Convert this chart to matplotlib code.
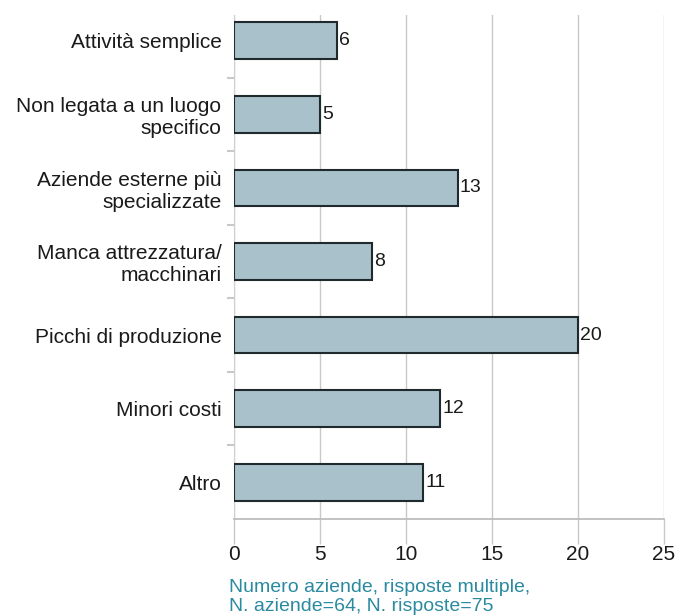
import matplotlib
matplotlib.use("Agg")
import matplotlib.pyplot as plt
import numpy as np

categories = ["Attività semplice", "Non legata a un luogo\nspecifico",
              "Aziende esterne più\nspecializzate", "Manca attrezzatura/\nmacchinari",
              "Picchi di produzione", "Minori costi", "Altro"]
values = [6, 5, 13, 8, 20, 12, 11]
xticks = [0, 5, 10, 15, 20, 25]
footnote = "Numero aziende, risposte multiple,\nN. aziende=64, N. risposte=75"

sans = "Liberation Sans"

fig = plt.figure(figsize=(6.83, 6.16), dpi=100)
ax = fig.add_axes([234/683, 1-519/616, (664-234)/683, (519-15)/616])

y = np.arange(len(categories))
ax.barh(y, values, height=0.5, color="#a9c1cb", edgecolor="#1e2a2c", linewidth=1.5, zorder=3)
for yi, v in zip(y, values):
    ax.text(v + 0.12, yi, str(v), va="center", ha="left", fontsize=14,
            family=sans, color="#1a1a1a")

ax.set_xlim(0, 25)
ax.set_ylim(6.5, -0.35)
ax.set_xticks(xticks)
ax.set_xticklabels([str(t) for t in xticks], family=sans, fontsize=15, color="#1a1a1a")
ax.tick_params(axis="x", length=18, color="#c8c8c8", width=1, pad=1)
ax.xaxis.grid(True, color="#c8c8c8", linewidth=1, zorder=0)

ax.set_yticks(y)
ax.set_yticklabels(categories, family=sans, fontsize=15, color="#1a1a1a", ha="right")
ax.tick_params(axis="y", which="major", length=0, pad=9)
ax.set_yticks(np.arange(0.5, len(categories) - 0.5, 1), minor=True)
ax.tick_params(axis="y", which="minor", length=5, color="#c8c8c8", width=1.5)

for s in ["top", "right"]:
    ax.spines[s].set_visible(False)
ax.spines["left"].set_color("#d0d0d0")
ax.spines["bottom"].set_color("#b8b8b8")
ax.spines["bottom"].set_linewidth(1.2)

fig.text(229/683, 1-597/616, footnote, family=sans, fontsize=14, color="#2a8aa0",
         ha="left", va="center", linespacing=1.08)

fig.savefig("out.png", dpi=100)
